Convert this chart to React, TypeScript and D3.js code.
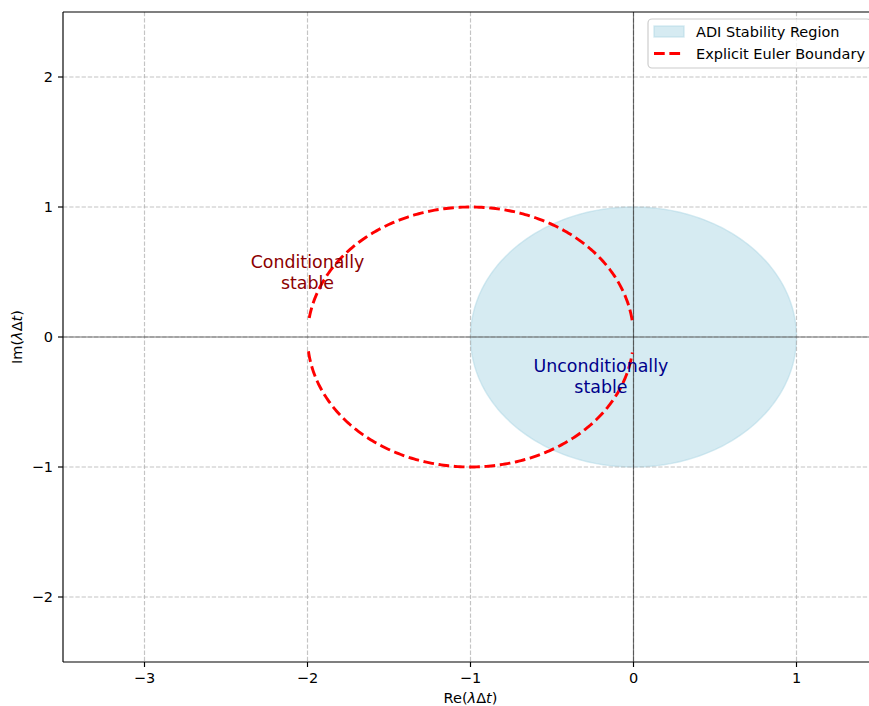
import React from "react";
import * as d3 from "d3";

// ---- data ----
const xTicks = [-3, -2, -1, 0, 1];
const yTicks = [-2, -1, 0, 1, 2];
const xDomain = [-3.5, 1.5];
const yDomain = [-2.5, 2.5];
// ADI stability region: disc |z| <= 1
const adiCenter = [0, 0];
const adiRadius = 1;
// Explicit Euler boundary: |1 + z| = 1
const eulerCenter = [-1, 0];
const eulerRadius = 1;
// arcs (angles, radians) of the dashed boundary as drawn
const eulerArcs = [
  [0.13, Math.PI - 0.12],
  [Math.PI + 0.11, 2 * Math.PI - 0.12],
];
const annotations = [
  { x: -2, y: 0.5, lines: ["Conditionally", "stable"], color: "#8b0000" },
  { x: -0.2, y: -0.3, lines: ["Unconditionally", "stable"], color: "#00008b" },
];
const legendItems = ["ADI Stability Region", "Explicit Euler Boundary"];

const W = 869;
const H = 706;
const M = { left: 63, top: 12, right: 878, bottom: 662 };
const FONT = "DejaVu Sans, sans-serif";
const FS = 14.5;

export default function App() {
  const x = d3.scaleLinear().domain(xDomain).range([M.left, M.right]);
  const y = d3.scaleLinear().domain(yDomain).range([M.bottom, M.top]);

  const circlePts = (c: number[], r: number, a0: number, a1: number, n = 200) =>
    d3.range(n + 1).map((i) => {
      const t = a0 + ((a1 - a0) * i) / n;
      return [c[0] + r * Math.cos(t), c[1] + r * Math.sin(t)] as [number, number];
    });

  const line = d3
    .line<[number, number]>()
    .x((d) => x(d[0]))
    .y((d) => y(d[1]));

  const adiPath = line(circlePts(adiCenter, adiRadius, 0, 2 * Math.PI, 300)) + "Z";
  const eulerPaths = eulerArcs.map(([a0, a1]) => line(circlePts(eulerCenter, eulerRadius, a0, a1)));

  const lw = 2.9;
  const redDash = `${3.7 * lw} ${1.6 * lw}`;
  const gridDash = "4.3 1.9";

  return (
    <svg
      width={W}
      height={H}
      style={{ position: "absolute", left: 0, top: 0, background: "#fff" }}
      fontFamily={FONT}
    >
      <defs>
        <clipPath id="plot">
          <rect x={M.left} y={M.top} width={M.right - M.left} height={M.bottom - M.top} />
        </clipPath>
      </defs>
      <rect x={0} y={0} width={W} height={H} fill="#fff" />
      <g clipPath="url(#plot)">
        {/* ADI region */}
        <path d={adiPath} fill="#add8e6" fillOpacity={0.5} stroke="#add8e6" strokeOpacity={0.5} strokeWidth={1.4} />
        {/* grid */}
        {xTicks.map((t) => (
          <line key={"gx" + t} x1={x(t)} x2={x(t)} y1={M.top} y2={M.bottom} stroke="#b0b0b0" strokeOpacity={0.75} strokeWidth={1.16} strokeDasharray={gridDash} />
        ))}
        {yTicks.map((t) => (
          <line key={"gy" + t} y1={y(t)} y2={y(t)} x1={M.left} x2={M.right} stroke="#b0b0b0" strokeOpacity={0.75} strokeWidth={1.16} strokeDasharray={gridDash} />
        ))}
        {/* axes lines */}
        <line x1={M.left} x2={M.right} y1={y(0)} y2={y(0)} stroke="#000" strokeOpacity={0.55} strokeWidth={1.16} />
        <line x1={x(0)} x2={x(0)} y1={M.top} y2={M.bottom} stroke="#000" strokeOpacity={0.55} strokeWidth={1.16} />
        {/* Euler boundary */}
        {eulerPaths.map((d, i) => (
          <path key={i} d={d || ""} fill="none" stroke="#ff0000" strokeWidth={lw} strokeDasharray={redDash} />
        ))}
        {/* annotations */}
        {annotations.map((a, i) => {
          const fs = 17.4;
          const lh = fs * 1.2;
          const cy = y(a.y);
          const n = a.lines.length;
          return (
            <text key={i} fill={a.color} fontSize={fs} textAnchor="middle">
              {a.lines.map((l, j) => (
                <tspan key={j} x={x(a.x)} y={cy - ((n - 1) * lh) / 2 + j * lh + fs * 0.73 / 2}>
                  {l}
                </tspan>
              ))}
            </text>
          );
        })}
      </g>
      {/* spines */}
      <g stroke="#000" strokeWidth={1.16} fill="none">
        <line x1={M.left} x2={M.right} y1={M.top} y2={M.top} />
        <line x1={M.left} x2={M.right} y1={M.bottom} y2={M.bottom} />
        <line x1={M.left} x2={M.left} y1={M.top} y2={M.bottom} />
        <line x1={M.right} x2={M.right} y1={M.top} y2={M.bottom} />
      </g>
      {/* x ticks */}
      {xTicks.map((t) => (
        <g key={"xt" + t}>
          <line x1={x(t)} x2={x(t)} y1={M.bottom} y2={M.bottom + 5} stroke="#000" strokeWidth={1.16} />
          <text x={x(t)} y={M.bottom + 10 + FS * 0.73} fontSize={FS} textAnchor="middle" fill="#000">
            {t < 0 ? "\u2212" + Math.abs(t) : String(t)}
          </text>
        </g>
      ))}
      {/* y ticks */}
      {yTicks.map((t) => (
        <g key={"yt" + t}>
          <line x1={M.left - 5} x2={M.left} y1={y(t)} y2={y(t)} stroke="#000" strokeWidth={1.16} />
          <text x={M.left - 10} y={y(t) + FS * 0.73 / 2} fontSize={FS} textAnchor="end" fill="#000">
            {t < 0 ? "\u2212" + Math.abs(t) : String(t)}
          </text>
        </g>
      ))}
      {/* axis labels */}
      <text x={(M.left + M.right) / 2} y={703} fontSize={FS} textAnchor="middle" fill="#000">
        Re(<tspan fontStyle="italic">λ</tspan>Δ<tspan fontStyle="italic">t</tspan>)
      </text>
      <text transform={`translate(22, ${(M.top + M.bottom) / 2}) rotate(-90)`} fontSize={FS} textAnchor="middle" fill="#000">
        Im(<tspan fontStyle="italic">λ</tspan>Δ<tspan fontStyle="italic">t</tspan>)
      </text>
      {/* legend */}
      <g>
        <rect x={648} y={19} width={223} height={49} rx={4} fill="#fff" fillOpacity={0.8} stroke="#cccccc" strokeWidth={1.16} />
        <rect x={654} y={26} width={30} height={11} fill="#add8e6" fillOpacity={0.5} stroke="#add8e6" strokeOpacity={0.5} strokeWidth={1.4} />
        <text x={696} y={32 + FS * 0.36} fontSize={FS} fill="#000">{legendItems[0]}</text>
        <line x1={654} x2={684} y1={53.5} y2={53.5} stroke="#ff0000" strokeWidth={lw} strokeDasharray={redDash} />
        <text x={696} y={54 + FS * 0.36} fontSize={FS} fill="#000">{legendItems[1]}</text>
      </g>
    </svg>
  );
}
